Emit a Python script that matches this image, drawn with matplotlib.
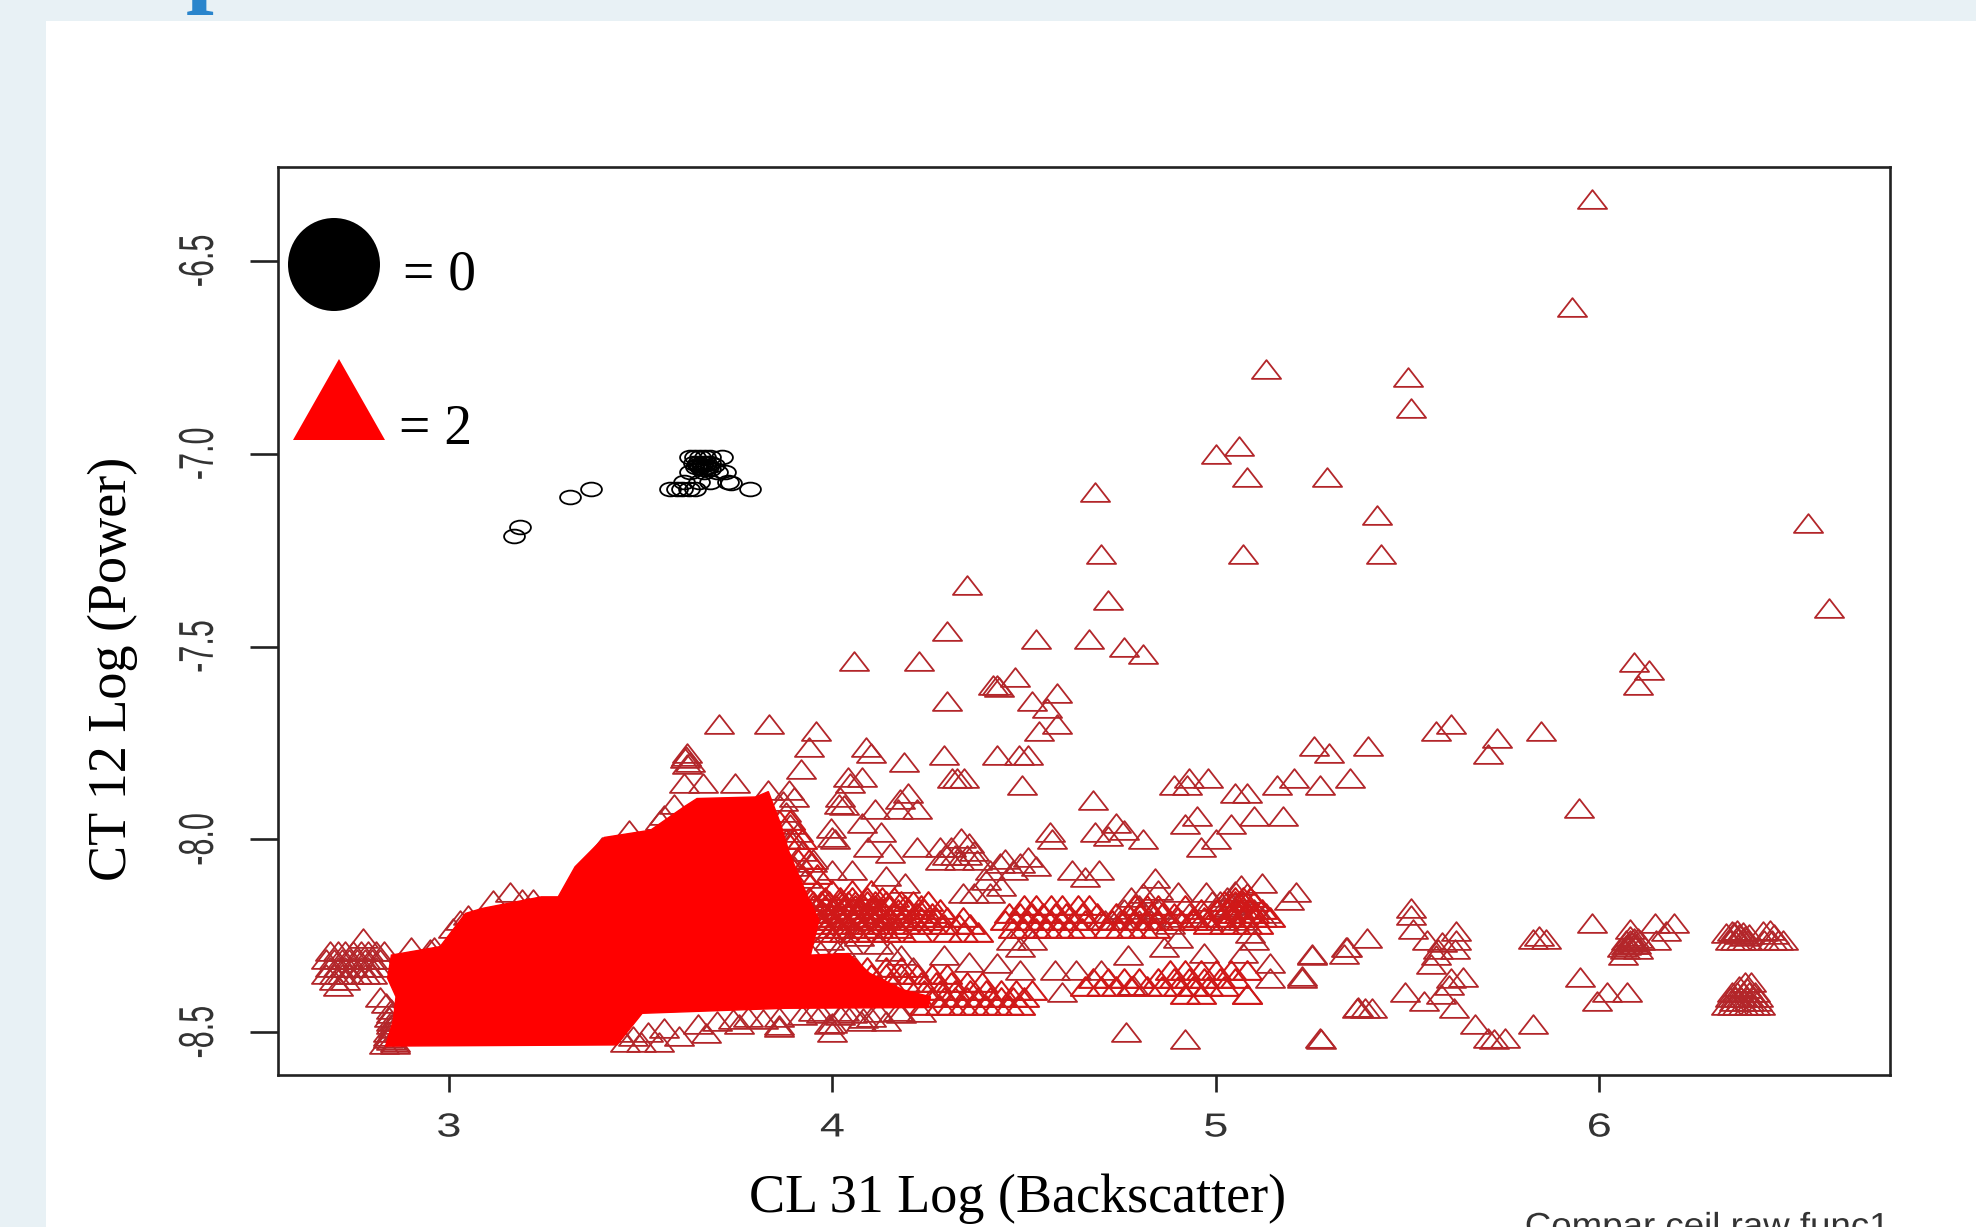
import matplotlib
matplotlib.use("Agg")
import matplotlib.pyplot as plt
from matplotlib.path import Path
from matplotlib.patches import Rectangle, Ellipse, Polygon
from matplotlib.patheffects import AbstractPathEffect
from matplotlib.transforms import Affine2D

# ---- data ----
x_ticks = [3, 4, 5, 6]
y_ticks = [-6.5, -7.0, -7.5, -8.0, -8.5]
y_tick_labels = ["-6.5", "-7.0", "-7.5", "-8.0", "-8.5"]

circle_x = [3.169, 3.186, 3.317, 3.371, 3.577, 3.595, 3.608, 3.625, 3.642, 3.786, 3.728, 3.735, 3.612, 3.651, 3.681,
            3.629, 3.642, 3.655, 3.668, 3.681, 3.712, 3.64, 3.65, 3.66, 3.67, 3.68, 3.69, 3.63, 3.665, 3.70, 3.72,
            3.645, 3.655, 3.675, 3.665, 3.66, 3.67, 3.65, 3.68]
circle_y = [-7.213, -7.189, -7.111, -7.092, -7.092, -7.092, -7.092, -7.092, -7.092, -7.092, -7.072, -7.075, -7.072,
            -7.072, -7.072, -7.008, -7.008, -7.008, -7.008, -7.008, -7.008, -7.025, -7.025, -7.025, -7.025, -7.025,
            -7.03, -7.047, -7.047, -7.047, -7.047, -7.035, -7.035, -7.035, -7.04, -7.03, -7.035, -7.03, -7.04]

# sparse upper triangles
upper_x = [5.98, 5.93, 5.13, 5.50, 5.51, 5.00, 5.06, 5.08, 5.29, 4.685, 5.42, 5.43, 5.07, 4.70, 4.72, 4.35, 6.545, 6.60,
           4.30, 4.53, 4.67, 4.76, 4.81, 4.056, 4.225, 6.09, 6.13, 6.10, 4.30, 4.475, 4.42, 4.43, 4.435, 4.585, 4.52,
           4.56, 4.585, 4.54, 3.705, 3.834, 3.957, 3.94, 5.613, 5.573, 5.733, 5.71, 5.849, 5.396, 5.256, 5.296, 4.087,
           4.10, 4.187, 4.29, 4.43, 4.487, 4.51, 3.917, 5.948, 5.351, 5.205, 5.16, 5.272, 4.925, 4.89, 4.98, 4.93, 5.05,
           5.08, 4.326, 4.312, 4.342, 4.495, 4.04, 4.077, 4.047, 4.02, 4.017, 4.03, 4.197, 4.176, 4.11, 4.17, 4.22, 4.68]
upper_y = [-6.34, -6.62, -6.78, -6.80, -6.88, -7.00, -6.98, -7.06, -7.06, -7.10, -7.16, -7.26, -7.26, -7.26, -7.38, -7.34,
           -7.18, -7.40, -7.46, -7.48, -7.48, -7.50, -7.52, -7.537, -7.537, -7.54, -7.56, -7.60, -7.64, -7.58, -7.60,
           -7.60, -7.605, -7.62, -7.64, -7.66, -7.70, -7.72, -7.70, -7.70, -7.718, -7.76, -7.70, -7.718, -7.738, -7.779,
           -7.718, -7.759, -7.759, -7.777, -7.76, -7.777, -7.80, -7.78, -7.78, -7.78, -7.78, -7.817, -7.919, -7.84,
           -7.84, -7.86, -7.858, -7.86, -7.86, -7.84, -7.84, -7.88, -7.88, -7.84, -7.84, -7.84, -7.859, -7.837, -7.837,
           -7.855, -7.89, -7.907, -7.911, -7.879, -7.896, -7.92, -7.92, -7.92, -7.898]

# middle band
mid_x = [5.175, 5.10, 5.04, 4.92, 4.95, 5.00, 4.96, 3.997, 4.007, 4.0, 4.076, 4.126, 4.093, 4.15, 3.947, 4.0, 4.05, 4.14,
         4.19, 4.22, 4.28, 4.336, 4.356, 4.31, 4.37, 4.28, 4.33, 4.376, 4.30, 4.32, 4.35, 4.567, 4.572, 4.685, 4.74, 4.76,
         4.81, 4.72, 4.51, 4.437, 4.41, 4.47, 4.53, 4.45, 4.49, 4.625, 4.695, 4.66, 4.40, 4.44, 4.34, 4.41, 4.37, 4.84,
         4.85, 4.90, 4.975, 5.065, 5.12, 5.21, 5.19, 5.05, 5.03, 5.08, 5.01, 5.04, 5.06, 5.02, 4.99, 5.10, 5.13, 4.81, 4.78,
         4.80, 4.85, 4.73, 4.71, 4.75, 4.80, 4.83, 4.88, 4.86, 4.76, 4.90, 4.93, 4.95, 4.98, 5.02, 5.07, 5.12, 5.09, 5.10,
         4.90, 4.49, 4.465, 4.52]
mid_y = [-7.94, -7.94, -7.96, -7.96, -7.94, -8.00, -8.02, -7.971, -8.0, -7.993, -7.958, -7.98, -8.02, -8.036, -8.058, -8.08,
         -8.08, -8.095, -8.114, -8.02, -8.02, -7.997, -8.01, -8.02, -8.03, -8.053, -8.053, -8.053, -8.04, -8.04, -8.04,
         -7.98, -8.0, -7.98, -7.958, -7.975, -8.0, -7.99, -8.045, -8.062, -8.08, -8.08, -8.07, -8.05, -8.06, -8.08, -8.08,
         -8.097, -8.105, -8.12, -8.14, -8.14, -8.14, -8.10, -8.13, -8.136, -8.136, -8.118, -8.114, -8.136, -8.157, -8.135,
         -8.15, -8.14, -8.16, -8.17, -8.16, -8.175, -8.16, -8.18, -8.19, -8.14, -8.15, -8.17, -8.18, -8.21, -8.21, -8.21,
         -8.21, -8.21, -8.22, -8.19, -8.18, -8.2, -8.19, -8.21, -8.21, -8.21, -8.21, -8.20, -8.244, -8.26, -8.257, -8.278,
         -8.26, -8.26]

# dense patches, typed row by row as they appear in the picture
row_y = [-8.13, -8.15, -8.16, -8.17, -8.18, -8.19, -8.20, -8.21, -8.22, -8.23, -8.24, -8.17, -8.19, -8.21, -8.23, -8.17, -8.19,
         -8.21, -8.23, -8.16, -8.18, -8.20, -8.22, -8.15, -8.19, -8.33, -8.35, -8.37, -8.39, -8.41, -8.43, -8.05, -8.09, -7.95,
         -8.00, -8.36, -8.38, -8.34, -8.36, -8.38, -8.40]
row_x = [[3.96, 4.00, 4.05, 4.10],
         [3.94, 3.98, 4.02, 4.05, 4.09, 4.13, 4.16],
         [3.95, 3.97, 3.99, 4.02, 4.04, 4.06, 4.09, 4.11, 4.14, 4.18, 4.21, 4.25],
         [3.95, 3.98, 4.01, 4.03, 4.06, 4.08, 4.11, 4.15, 4.19, 4.23],
         [3.94, 3.97, 4.00, 4.03, 4.05, 4.07, 4.10, 4.11, 4.13, 4.17, 4.20, 4.24, 4.28],
         [3.95, 3.98, 4.01, 4.04, 4.07, 4.09, 4.12, 4.16, 4.22, 4.26],
         [3.96, 3.99, 4.02, 4.05, 4.08, 4.10, 4.12, 4.15, 4.19, 4.23, 4.27, 4.30, 4.34],
         [3.97, 4.00, 4.03, 4.06, 4.09, 4.11, 4.14, 4.18, 4.21, 4.25],
         [3.97, 4.01, 4.04, 4.07, 4.10, 4.13, 4.16, 4.19, 4.22, 4.26, 4.29, 4.33, 4.36],
         [3.98, 4.02, 4.05, 4.08, 4.12, 4.17],
         [3.99, 4.03, 4.06, 4.10, 4.14, 4.18, 4.22, 4.30, 4.34, 4.38],
         [4.50, 4.53, 4.57, 4.60, 4.64, 4.67],
         [4.46, 4.49, 4.52, 4.55, 4.58, 4.61, 4.65, 4.69],
         [4.45, 4.48, 4.51, 4.54, 4.57, 4.60, 4.63, 4.66, 4.70],
         [4.47, 4.50, 4.53, 4.56, 4.59, 4.62, 4.65],
         [4.79, 4.82, 4.85, 4.92],
         [4.74, 4.77, 4.80, 4.83, 4.86, 4.89],
         [4.70, 4.73, 4.76, 4.79, 4.82, 4.85, 4.88, 4.91, 4.94],
         [4.72, 4.75, 4.78, 4.81, 4.84],
         [5.02, 5.05, 5.07, 5.10],
         [4.96, 5.00, 5.03, 5.06, 5.09, 5.12],
         [4.94, 4.97, 5.01, 5.04, 5.07, 5.10, 5.14],
         [4.98, 5.02, 5.05, 5.08, 5.11],
         [5.05, 5.07, 5.09],
         [5.04, 5.06, 5.08, 5.10],
         [4.00, 4.03, 4.06, 4.09, 4.14, 4.18],
         [4.10, 4.14, 4.18, 4.22, 4.26, 4.30],
         [4.15, 4.19, 4.23, 4.27, 4.31, 4.35, 4.39],
         [4.24, 4.28, 4.32, 4.36, 4.40, 4.44, 4.48, 4.52],
         [4.26, 4.29, 4.32, 4.35, 4.38, 4.41, 4.44, 4.47, 4.50],
         [4.24, 4.28, 4.31, 4.34, 4.37, 4.40, 4.43, 4.46, 4.49],
         [3.88, 3.91, 3.94],
         [3.89, 3.92, 3.96],
         [3.86, 3.89],
         [3.88, 3.90, 3.92],
         [4.68, 4.72, 4.76, 4.80],
         [4.66, 4.70, 4.74],
         [4.88, 4.92, 4.96, 5.00, 5.04, 5.08],
         [4.85, 4.89, 4.93, 4.97, 5.01, 5.05],
         [4.78, 4.82, 4.86, 4.90, 4.94, 4.98, 5.02],
         [4.92, 4.96, 5.08]]

# lower band
low_x = [4.29, 4.356, 4.43, 4.49, 4.58, 4.635, 4.70, 4.77, 4.865, 4.97, 5.07, 5.14, 5.14, 5.225, 5.25, 5.34, 5.08, 4.94,
         4.785, 4.60, 4.765, 4.92, 5.274, 5.37, 4.23, 4.08, 3.99, 3.86, 3.998, 3.86, 3.757, 3.67, 3.548, 3.50, 3.46, 4.075,
         4.12, 4.03, 3.95, 4.00, 4.17, 3.93, 3.91, 3.96, 3.99, 4.02, 4.04, 4.07, 4.12, 4.15, 4.18, 4.21]
low_y = [-8.30, -8.317, -8.32, -8.34, -8.34, -8.34, -8.34, -8.30, -8.278, -8.295, -8.295, -8.32, -8.36, -8.36, -8.30, -8.28,
         -8.40, -8.38, -8.378, -8.395, -8.499, -8.518, -8.518, -8.434, -8.447, -8.464, -8.48, -8.486, -8.477, -8.481, -8.48,
         -8.503, -8.525, -8.525, -8.525, -8.47, -8.447, -8.445, -8.445, -8.50, -8.445, -8.28, -8.30, -8.28, -8.26, -8.28,
         -8.27, -8.25, -8.27, -8.29, -8.30, -8.33]

# right-hand groups
right_x = [5.51, 5.51, 5.514, 5.551, 5.626, 5.626, 5.59, 5.624, 5.579, 5.574, 5.562, 5.394, 5.343, 5.335, 5.25, 5.225, 5.613,
           5.644, 5.607, 5.588, 5.493, 5.542, 5.62, 5.369, 5.408, 5.388, 5.675, 5.71, 5.753, 5.725, 5.826, 5.272, 5.826, 5.86,
           5.843, 5.98, 5.95, 6.02, 5.995, 6.073, 6.062, 6.068, 6.10, 6.085, 6.08, 6.079, 6.075, 6.095, 6.06, 6.09, 6.07, 6.105,
           6.147, 6.175, 6.146, 6.195, 6.33, 6.345, 6.36, 6.375, 6.39, 6.34, 6.355, 6.37, 6.385, 6.427, 6.445, 6.455, 6.465,
           6.45, 6.43, 6.48, 6.33, 6.345, 6.36, 6.375, 6.39, 6.405, 6.42, 6.34, 6.355, 6.37, 6.385, 6.40, 6.415, 6.345, 6.36,
           6.375, 6.39, 6.405, 6.38, 6.395, 6.365, 6.385, 6.35, 6.37, 6.39, 6.41, 6.08, 6.09, 6.07, 6.10, 6.35, 6.365, 6.38]
right_y = [-8.179, -8.195, -8.233, -8.26, -8.238, -8.26, -8.265, -8.283, -8.283, -8.30, -8.324, -8.256, -8.279, -8.297, -8.297,
           -8.355, -8.36, -8.357, -8.378, -8.40, -8.396, -8.419, -8.437, -8.437, -8.437, -8.437, -8.478, -8.514, -8.516, -8.518,
           -8.478, -8.516, -8.258, -8.258, -8.25, -8.217, -8.357, -8.396, -8.419, -8.396, -8.30, -8.283, -8.283, -8.265, -8.25,
           -8.233, -8.27, -8.27, -8.28, -8.255, -8.26, -8.262, -8.26, -8.238, -8.217, -8.217, -8.243, -8.238, -8.235, -8.24,
           -8.245, -8.26, -8.26, -8.26, -8.26, -8.238, -8.236, -8.245, -8.26, -8.26, -8.26, -8.26, -8.43, -8.43, -8.43, -8.43,
           -8.43, -8.43, -8.43, -8.41, -8.41, -8.41, -8.41, -8.41, -8.41, -8.395, -8.395, -8.395, -8.395, -8.395, -8.37, -8.37,
           -8.38, -8.385, -8.42, -8.42, -8.42, -8.42, -8.26, -8.27, -8.275, -8.255, -8.24, -8.245, -8.25]

# triangles around the edge of the dense mass
edge_x = [3.62, 3.615, 3.63, 3.617, 3.62, 3.614, 3.663, 3.745, 3.833, 3.888, 3.90, 3.87, 3.88, 3.89, 3.91, 3.89, 3.92, 3.95,
          3.90, 3.93, 3.56, 3.587, 3.55, 3.47, 3.40, 3.38, 3.36, 3.34, 3.16, 3.115, 3.19, 3.22, 3.05, 3.03, 3.01, 2.777, 2.90,
          2.71, 2.835, 2.69, 2.71, 2.73, 2.75, 2.77, 2.79, 2.81, 2.83, 2.68, 2.70, 2.72, 2.74, 2.76, 2.78, 2.80, 2.82, 2.69,
          2.71, 2.73, 2.75, 2.77, 2.79, 2.81, 2.68, 2.70, 2.72, 2.74, 2.76, 2.78, 2.80, 2.70, 2.73, 2.82, 2.85, 2.85, 2.84,
          2.86, 2.96, 3.0, 3.03, 2.95, 2.85, 2.86, 2.87, 3.44, 3.48, 3.52, 3.56, 3.60, 3.65, 3.70, 3.74, 3.78, 3.82, 3.86,
          3.92, 3.97, 4.02, 4.05, 4.10, 4.14, 4.18, 2.845, 2.855, 2.84, 2.85, 2.86, 2.83, 2.84, 2.85]
edge_y = [-7.777, -7.79, -7.80, -7.785, -7.805, -7.855, -7.855, -7.855, -7.872, -7.873, -7.89, -7.90, -7.93, -7.96, -7.98, -8.0,
          -8.03, -8.05, -8.07, -8.10, -7.937, -7.907, -7.95, -7.975, -8.02, -8.05, -8.08, -8.11, -8.136, -8.157, -8.155, -8.155,
          -8.195, -8.21, -8.23, -8.257, -8.278, -8.38, -8.425, -8.29, -8.29, -8.29, -8.29, -8.29, -8.29, -8.29, -8.29, -8.31,
          -8.31, -8.31, -8.31, -8.31, -8.31, -8.31, -8.31, -8.33, -8.33, -8.33, -8.33, -8.33, -8.33, -8.33, -8.35, -8.35, -8.35,
          -8.35, -8.35, -8.35, -8.35, -8.365, -8.365, -8.41, -8.44, -8.48, -8.51, -8.525, -8.28, -8.28, -8.27, -8.285, -8.45,
          -8.47, -8.50, -8.50, -8.51, -8.50, -8.49, -8.51, -8.48, -8.47, -8.465, -8.46, -8.465, -8.46, -8.455, -8.45, -8.455,
          -8.45, -8.46, -8.47, -8.45, -8.46, -8.49, -8.50, -8.52, -8.53, -8.53, -8.515, -8.47]

# outline of the solid red mass
mass_x = [2.835, 2.855, 2.862, 2.84, 2.85, 2.977, 3.043, 3.087, 3.241, 3.285, 3.329, 3.405, 3.526, 3.614, 3.647, 3.80, 3.833,
          3.865, 3.888, 3.932, 3.965, 3.943, 4.042, 4.097, 4.184, 4.256, 4.25, 3.877, 3.504, 3.438]
mass_y = [-8.536, -8.469, -8.408, -8.36, -8.30, -8.278, -8.192, -8.179, -8.149, -8.149, -8.071, -7.995, -7.976, -7.915, -7.894,
          -7.89, -7.876, -7.96, -8.036, -8.14, -8.209, -8.30, -8.296, -8.347, -8.39, -8.408, -8.436, -8.438, -8.451, -8.533]

legend_labels = ["= 0", "= 2"]
x_label = "CL 31 Log (Backscatter)"
y_label = "CT 12 Log (Power)"
footer = "Compar ceil raw func1"


class Stretch(AbstractPathEffect):
    """Widen or narrow a text about its own centre, as the stretched picture shows it."""

    def __init__(self, sx=1.0, sy=1.0):
        super().__init__()
        self.sx, self.sy = sx, sy

    def draw_path(self, renderer, gc, tpath, affine, rgbFace=None):
        box = tpath.get_extents(affine)
        cx, cy = (box.x0 + box.x1) / 2, (box.y0 + box.y1) / 2
        new = affine + Affine2D().translate(-cx, -cy).scale(self.sx, self.sy).translate(cx, cy)
        renderer.draw_path(gc, tpath, new, rgbFace)


# ---- figure ----
W, H = 1976, 1227
fig = plt.figure(figsize=(W / 100, H / 100), dpi=100, facecolor="#e8f1f5")
fig.add_artist(Rectangle((46 / W, 0), 1 - 46 / W, 1 - 21 / H, transform=fig.transFigure, fc="white", ec="none", zorder=-5))
fig.text(214 / W, 1 + 6 / H, "p", family="Liberation Serif", weight="bold", color="#2a85cc", fontsize=72,
         ha="center", va="baseline")

ax = fig.add_axes([277.5 / W, 1 - 1075 / H, (1890 - 277.5) / W, (1075 - 166.5) / H])
ax.set_xlim(2.553, 6.758)
ax.set_ylim(-8.611, -6.255)
ax.patch.set_alpha(0)
for s in ax.spines.values():
    s.set_linewidth(1.9)
    s.set_color("#222222")

tri = Path([(-14, -9), (14, -9), (0, 9), (-14, -9)], closed=True)
oval = Path.unit_circle().transformed(Affine2D().scale(10, 6.6))

fuzz_x = [v for xs in row_x for v in xs]
fuzz_y = [y for y, xs in zip(row_y, row_x) for _ in xs]
tri_x = upper_x + mid_x + low_x + right_x + edge_x
tri_y = upper_y + mid_y + low_y + right_y + edge_y
ax.plot(tri_x, tri_y, ls="none", marker=tri, ms=21, mfc="none", mec="#b3262a", mew=1.3, zorder=2)
ax.plot(fuzz_x, fuzz_y, ls="none", marker=tri, ms=21, mfc="none", mec="#d01818", mew=1.5, zorder=2)
ax.add_patch(Polygon(list(zip(mass_x, mass_y)), closed=True, fc="#ff0000", ec="#ff0000", lw=1, zorder=3))
ax.plot(circle_x, circle_y, ls="none", marker=oval, ms=15, mfc="none", mec="black", mew=1.3, zorder=4)

ax.set_xticks(x_ticks)
ax.set_xticklabels([str(v) for v in x_ticks], family="Liberation Sans", fontsize=24, color="#333333")
ax.set_yticks(y_ticks)
ax.set_yticklabels(y_tick_labels, family="Liberation Sans", fontsize=22, color="#333333", rotation=90, va="center")
ax.tick_params(axis="x", length=12, width=1.9, color="#222222", pad=15)
ax.tick_params(axis="y", length=20, width=1.9, color="#222222", pad=26)
for t in ax.get_xticklabels():
    t.set_path_effects([Stretch(1.35, 1.0)])
for t in ax.get_yticklabels():
    t.set_path_effects([Stretch(1.6, 1.0)])

# legend drawn as in the picture
fig.add_artist(Ellipse((334 / W, 1 - 264.5 / H), 92 / W, 93 / H, transform=fig.transFigure, fc="black", ec="none"))
fig.add_artist(Polygon([(293 / W, 1 - 440 / H), (385 / W, 1 - 440 / H), (339 / W, 1 - 359 / H)], closed=True,
                       transform=fig.transFigure, fc="#ff0000", ec="none"))
fig.text(403 / W, 1 - 289 / H, legend_labels[0], family="Liberation Serif", fontsize=40, ha="left", va="baseline")
fig.text(399 / W, 1 - 444 / H, legend_labels[1], family="Liberation Serif", fontsize=40, ha="left", va="baseline")

fig.text(1018 / W, 1 - 1199 / H, x_label, family="Liberation Serif", fontsize=39, ha="center", va="center")
fig.text(113 / W, 1 - 669 / H, y_label, family="Liberation Serif", fontsize=39, ha="center", va="center", rotation=90)
ft = fig.text(1873 / W, 1 - 1236 / H, footer, family="Liberation Sans", fontsize=24, color="#333333", ha="right", va="baseline")
ft.set_path_effects([Stretch(1.1, 1.0)])

fig.savefig("out.png", dpi=100, facecolor=fig.get_facecolor())
